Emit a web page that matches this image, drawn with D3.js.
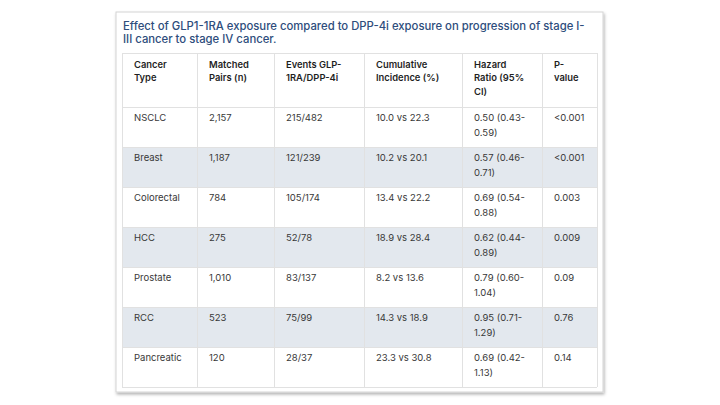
<!DOCTYPE html>
<html>
<head>
<meta charset="utf-8">
<title>GLP1-RA vs DPP-4i cancer progression</title>
<script src="https://cdn.jsdelivr.net/npm/d3@7"></script>
<style>
  body { margin: 0; background: #fff; }
  svg { font-family: Inter, "Noto Sans", sans-serif; }
  .title { fill: #2e4d7c; font-size: 11.3px; font-weight: 500; }
  .head { fill: #1f1f1f; font-size: 9.4px; font-weight: 600; }
  .cell { fill: #383838; font-size: 9.5px; }
</style>
</head>
<body>
<script>
  // table content
  var title = "Effect of GLP1-1RA exposure compared to DPP-4i exposure on progression of stage I-III cancer to stage IV cancer.";
  var headers = ["Cancer Type", "Matched Pairs (n)", "Events GLP-1RA/DPP-4i", "Cumulative Incidence (%)", "Hazard Ratio (95% CI)", "P-value"];
  var cancerTypes = ["NSCLC", "Breast", "Colorectal", "HCC", "Prostate", "RCC", "Pancreatic"];
  var matchedPairs = ["2,157", "1,187", "784", "275", "1,010", "523", "120"];
  var events = ["215/482", "121/239", "105/174", "52/78", "83/137", "75/99", "28/37"];
  var incidence = ["10.0 vs 22.3", "10.2 vs 20.1", "13.4 vs 22.2", "18.9 vs 28.4", "8.2 vs 13.6", "14.3 vs 18.9", "23.3 vs 30.8"];
  var hazardRatio = ["0.50 (0.43-0.59)", "0.57 (0.46-0.71)", "0.69 (0.54-0.88)", "0.62 (0.44-0.89)", "0.79 (0.60-1.04)", "0.95 (0.71-1.29)", "0.69 (0.42-1.13)"];
  var pValues = ["<0.001", "<0.001", "0.003", "0.009", "0.09", "0.76", "0.14"];

  var W = 720, H = 405;
  var card = {x: 116, y: 12, w: 487, h: 380};
  var table = {x: 122, y: 53, w: 475, head: 54};
  var colW = [75, 77, 90, 98, 80, 55];
  var pad = 12;

  var rows = cancerTypes.map(function(c, i) {
    return [c, matchedPairs[i], events[i], incidence[i], hazardRatio[i], pValues[i]];
  });

  var svg = d3.select("body").append("svg")
      .attr("width", W)
      .attr("height", H);

  var defs = svg.append("defs");
  var f = defs.append("filter").attr("id", "shadow")
      .attr("x", "-5%").attr("y", "-5%").attr("width", "110%").attr("height", "110%");
  f.append("feDropShadow").attr("dx", 1).attr("dy", 2).attr("stdDeviation", 1.5)
      .attr("flood-color", "#000").attr("flood-opacity", 0.3);

  // card
  svg.append("rect")
      .attr("x", card.x).attr("y", card.y)
      .attr("width", card.w).attr("height", card.h)
      .attr("fill", "#fff")
      .attr("stroke", "#d4d4d4")
      .attr("filter", "url(#shadow)");

  // column positions from cumulative widths
  var colX = [0];
  colW.forEach(function(w, i) { colX.push(colX[i] + w); });
  var x = d3.scaleOrdinal().domain(d3.range(colW.length)).range(colX.slice(0, -1).map(function(v) { return table.x + v; }));

  var rowH = 40;
  var y = d3.scaleBand()
      .domain(d3.range(rows.length))
      .range([table.y + table.head, table.y + table.head + rowH * rows.length]);

  // wrap text into lines that fit a width (breaks at spaces and after hyphens)
  function wrap(textSel, str, width) {
    var parts = [], re = /([^\s-]+-?)(\s*)/g, m;
    while ((m = re.exec(str)) !== null) parts.push({t: m[1], sp: m[2].length > 0});
    var lines = [], cur = "", prevSp = false;
    var probe = textSel.append("tspan");
    parts.forEach(function(p) {
      var cand = cur === "" ? p.t : cur + (prevSp ? " " : "") + p.t;
      probe.text(cand);
      if (cur !== "" && probe.node().getComputedTextLength() > width) {
        lines.push(cur);
        cur = p.t;
      } else {
        cur = cand;
      }
      prevSp = p.sp;
    });
    if (cur !== "") lines.push(cur);
    probe.remove();
    return lines;
  }

  function drawLines(g, str, cls, x0, y0, width, lh) {
    var t = g.append("text").attr("class", cls).attr("x", x0).attr("y", y0);
    var lines = wrap(t, str, width);
    t.selectAll("tspan").data(lines).enter().append("tspan")
        .attr("x", x0)
        .attr("y", function(d, i) { return y0 + i * lh; })
        .text(function(d) { return d; });
  }

  // title
  drawLines(svg, title, "title", table.x + 1, 29.5, 468, 13);

  // stripes on every other row
  svg.selectAll(".stripe")
      .data(rows.filter(function(d, i) { return i % 2 === 1; }))
      .enter().append("rect")
      .attr("x", table.x)
      .attr("y", function(d) { return y(rows.indexOf(d)); })
      .attr("width", table.w)
      .attr("height", y.bandwidth())
      .attr("fill", "#e3e8ee");

  // grid lines
  var grid = svg.append("g").attr("stroke", "#e1e1e1").attr("stroke-width", 1);
  var hLines = [table.y, table.y + table.head].concat(y.domain().map(function(i) { return y(i) + y.bandwidth(); }));
  grid.selectAll(".h").data(hLines).enter().append("line")
      .attr("x1", table.x).attr("x2", table.x + table.w)
      .attr("y1", function(d) { return Math.round(d) + 0.5; })
      .attr("y2", function(d) { return Math.round(d) + 0.5; });
  var vLines = colX.map(function(v) { return table.x + v; });
  grid.selectAll(".v").data(vLines).enter().append("line")
      .attr("x1", function(d) { return d + 0.5; }).attr("x2", function(d) { return d + 0.5; })
      .attr("y1", table.y).attr("y2", y.range()[1]);

  // header
  var hg = svg.append("g");
  headers.forEach(function(h, j) {
    drawLines(hg, h, "head", x(j) + pad, table.y + 14.5, colW[j] - pad * 2, 13.5);
  });

  // body
  var bg = svg.append("g");
  rows.forEach(function(r, i) {
    r.forEach(function(v, j) {
      drawLines(bg, v, "cell", x(j) + pad, y(i) + 13.5, colW[j] - pad * 2, 15);
    });
  });
</script>
</body>
</html>
